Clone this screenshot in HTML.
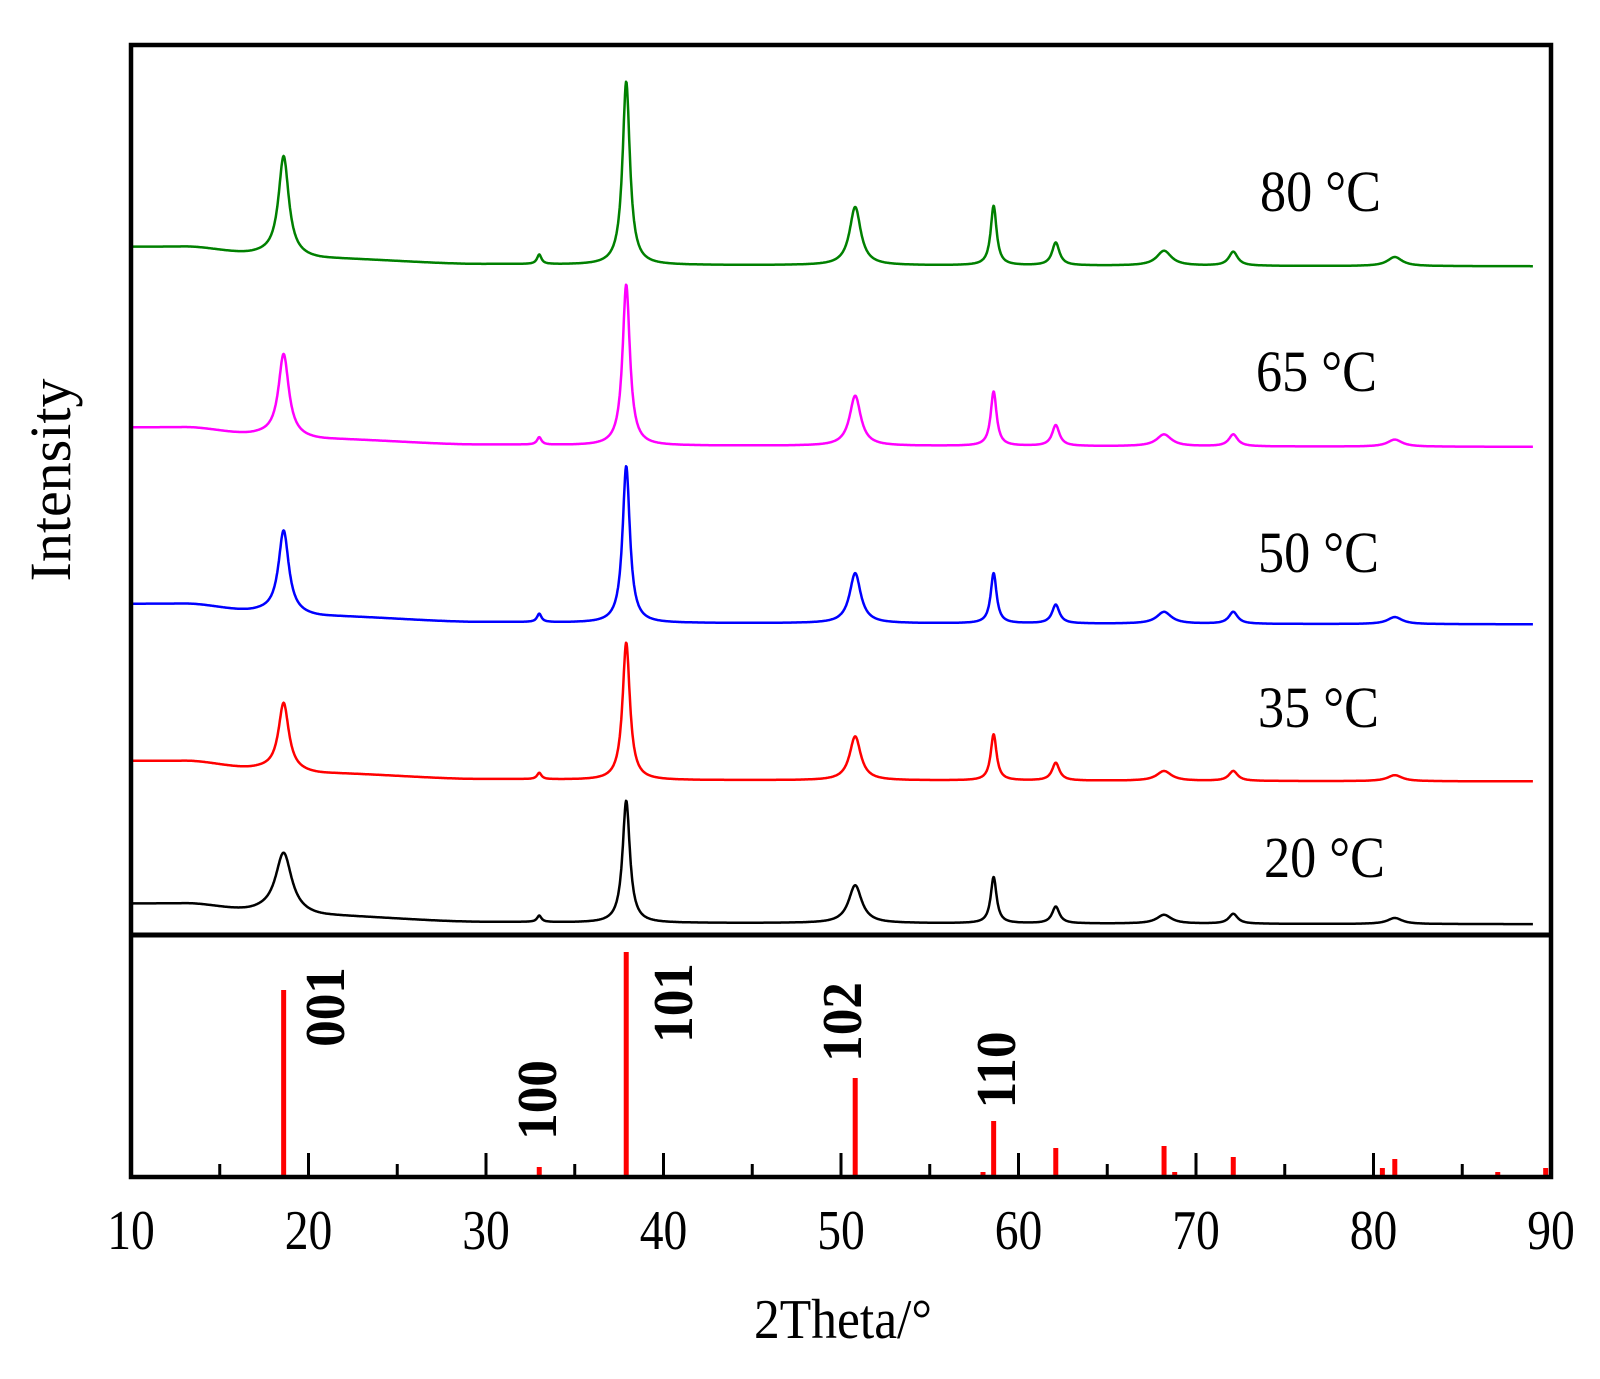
<!DOCTYPE html>
<html><head><meta charset="utf-8"><style>
body{margin:0;background:#fff;}
svg text{font-family:"Liberation Serif",serif;fill:#000;}
</style></head><body>
<svg id="s" width="1600" height="1374" viewBox="0 0 1600 1374" xmlns="http://www.w3.org/2000/svg">
<g id="traces" fill="none" stroke-width="2.5" stroke-linejoin="round"></g>
<g id="sticks" stroke="#f00" stroke-width="5"></g>
<g id="ticks" stroke="#000" stroke-width="3"></g>
<rect x="131" y="45" width="1420" height="1132" fill="none" stroke="#000" stroke-width="4.5"/>
<line x1="131" y1="935" x2="1551" y2="935" stroke="#000" stroke-width="5"/>
<g font-size="58">
<text transform="translate(1260,211) scale(0.9,1)">80 °C</text>
<text transform="translate(1256,391) scale(0.9,1)">65 °C</text>
<text transform="translate(1258,572) scale(0.9,1)">50 °C</text>
<text transform="translate(1258,727) scale(0.9,1)">35 °C</text>
<text transform="translate(1264,877) scale(0.9,1)">20 °C</text>
</g>
<g font-size="56" text-anchor="middle" id="xl"></g>
<text transform="translate(843,1338) scale(0.92,1)" font-size="56" text-anchor="middle">2Theta/°</text>
<text transform="translate(70,480) rotate(-90)" font-size="58" text-anchor="middle">Intensity</text>
<g font-size="56" text-anchor="middle" font-weight="bold">
<text transform="translate(344,1007) rotate(-90) scale(0.95,1)">001</text>
<text transform="translate(556,1100) rotate(-90) scale(0.95,1)">100</text>
<text transform="translate(692,1003) rotate(-90) scale(0.95,1)">101</text>
<text transform="translate(861,1022) rotate(-90) scale(0.95,1)">102</text>
<text transform="translate(1015,1070) rotate(-90) scale(0.95,1)">110</text>
</g>
</svg>
<script>
var NS="http://www.w3.org/2000/svg";
function X(d){return 131+(d-10)*17.75;}
var peaks=[18.6,33,37.9,50.8,58.6,62.1,68.2,72.1,81.2];
var wid=[0.35,0.15,0.25,0.38,0.2,0.25,0.5,0.3,0.5];
var series=[
 {c:"#008000",E:261,S:242,t:[153,250,80,203,202,238,246,247,252]},
 {c:"#ff00ff",E:438,S:419,t:[347,429,279,388,384,417,426,426,431]},
 {c:"#0000ff",E:612,S:592,t:[520,602,457,562,562,593,600,600,605]},
 {c:"#ff0000",E:766,S:746,t:[689,758,630,722,720,748,756,756,760]},
 {c:"#000000",E:906,S:886,t:[836,898,785,868,860,889,897,896,900]}
];
var bp=[[10,-19],[13,-19],[17,-12],[21,-7],[30,-2],[38,-1],[89,0]];
function base(d){for(var i=0;i<bp.length-1;i++){if(d<=bp[i+1][0]){var f=(d-bp[i][0])/(bp[i+1][0]-bp[i][0]);f=f*f*(3-2*f);return bp[i][1]+f*(bp[i+1][1]-bp[i][1]);}}return 0;}
var g=document.getElementById("traces");
series.forEach(function(s,si){
 var dd="";
 for(var d=10.05;d<=89;d+=0.03){
  var b=s.E+base(d)*(s.E-s.S)/19;
  var y=b;
  for(var k=0;k<peaks.length;k++){
   var bk=s.E+base(peaks[k])*(s.E-s.S)/19;
   var h=bk-s.t[k];var w=wid[k];if(si==4&&k==0)w=0.55;if(si==4&&k==3)w=0.45;
   var u=(d-peaks[k])/w;y-=h/(1+u*u);
  }
  y=y*1.02;
  dd+=(dd?"L":"M")+X(d).toFixed(1)+" "+y.toFixed(1);
 }
 var p=document.createElementNS(NS,"path");p.setAttribute("d",dd);p.setAttribute("stroke",s.c);g.appendChild(p);
});
var st=[[18.6,990],[33,1167],[37.9,952],[50.8,1078],[58.6,1121],[62.1,1148],[68.2,1146],[72.1,1157],[81.2,1159],[58,1172],[68.8,1172],[80.5,1168],[87,1172],[89.7,1168]];
var sg=document.getElementById("sticks");
st.forEach(function(a){var l=document.createElementNS(NS,"line");l.setAttribute("x1",X(a[0]));l.setAttribute("x2",X(a[0]));l.setAttribute("y1",a[1]);l.setAttribute("y2",1177);sg.appendChild(l);});
var tg=document.getElementById("ticks");
for(var d=15;d<90;d+=5){var l=document.createElementNS(NS,"line");l.setAttribute("x1",X(d));l.setAttribute("x2",X(d));l.setAttribute("y1",d%10==0?1153:1164);l.setAttribute("y2",1177);tg.appendChild(l);}
var xl=document.getElementById("xl");
for(var d=10;d<=90;d+=10){var t=document.createElementNS(NS,"text");t.setAttribute("transform","translate("+X(d)+",1249) scale(0.85,1)");t.textContent=d;xl.appendChild(t);}
</script>
</body></html>
